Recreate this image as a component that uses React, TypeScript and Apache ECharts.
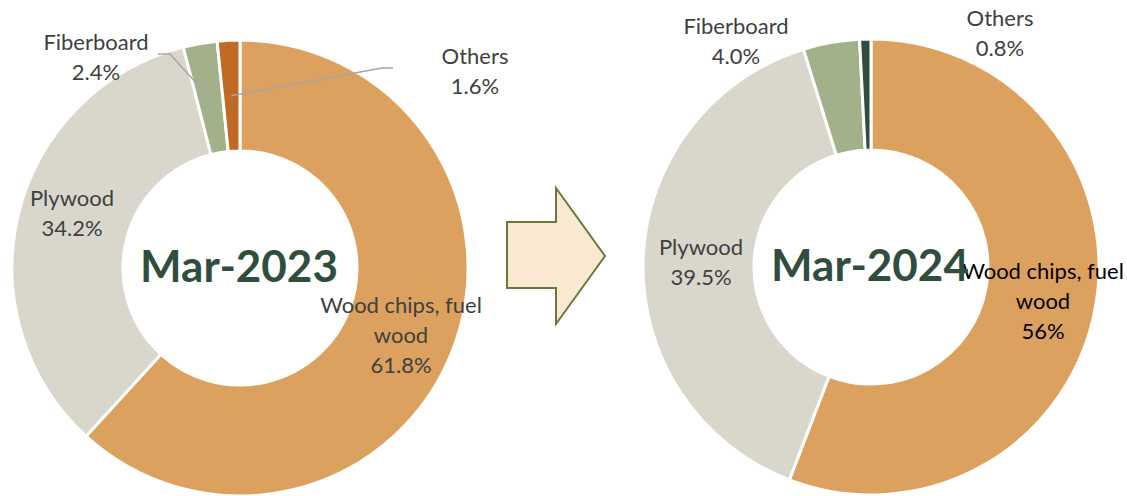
import React, { useEffect, useRef } from 'react';
import * as echarts from 'echarts';

const categories = ['Wood chips, fuel wood', 'Plywood', 'Fiberboard', 'Others'];
const values2023 = [61.8, 34.2, 2.4, 1.6];
const values2024 = [56, 39.5, 4.0, 0.8];
const decimals2023 = [1, 1, 1, 1];
const decimals2024 = [0, 1, 1, 1];
const periodLabels = ['Mar-2023', 'Mar-2024'];

const colors2023 = ['#DCA15E', '#D9D7CB', '#A3B18A', '#C06A25'];
const colors2024 = ['#DCA15E', '#D9D7CB', '#A3B18A', '#2F4E3E'];

const CENTER_L: [number, number] = [240, 268];
const CENTER_R: [number, number] = [871, 267];
const R_IN = 117;
const R_OUT = 228;

const labelPosL = [[401, 334], [72, 212], [96, 56], [475, 70]];
const labelPosR = [[1043, 300], [701, 261], [736, 40], [1000, 32]];
const labelColL = ['#404040', '#404040', '#404040', '#404040'];
const labelColR = ['#000000', '#404040', '#404040', '#404040'];

function wrapName(n: string) {
  return n.replace(', fuel wood', ', fuel\nwood');
}

function pieSeries(values: number[], decimals: number[], colors: string[], center: [number, number], labelPos: number[][], labelCols: string[]) {
  return {
    type: 'pie',
    center,
    radius: [R_IN, R_OUT],
    startAngle: 90,
    clockwise: true,
    avoidLabelOverlap: false,
    silent: true,
    itemStyle: { borderColor: '#ffffff', borderWidth: 3 },
    data: categories.map((name, i) => ({
      name,
      value: values[i],
      itemStyle: { color: colors[i] },
      label: { color: labelCols[i] },
    })),
    label: {
      show: true,
      position: 'inside',
      formatter: (p: any) => wrapName(p.name) + '\n' + values[p.dataIndex].toFixed(decimals[p.dataIndex]) + '%',
      fontFamily: 'Lato',
      fontSize: 22,
      lineHeight: 30,
      color: '#404040',
      align: 'center',
    },
    labelLine: { show: false },
    labelLayout: (params: any) => ({
      x: labelPos[params.dataIndex][0],
      y: labelPos[params.dataIndex][1],
      align: 'center',
      verticalAlign: 'middle',
    }),
    emphasis: { disabled: true },
  };
}

function sliceAnchor(values: number[], idx: number, center: [number, number]) {
  const total = values.reduce((a, b) => a + b, 0);
  let cum = 0;
  for (let i = 0; i < idx; i++) cum += values[i];
  const theta = ((cum + values[idx] / 2) / total) * Math.PI * 2;
  const r = (R_IN + R_OUT) / 2;
  return [center[0] + r * Math.sin(theta), center[1] - r * Math.cos(theta)];
}

export default function App() {
  const ref = useRef<HTMLDivElement>(null);
  useEffect(() => {
    if (!ref.current) return;
    const chart = echarts.init(ref.current, null, { renderer: 'svg' });
    const aFib = sliceAnchor(values2023, 2, CENTER_L);
    const aOth = sliceAnchor(values2023, 3, CENTER_L);
    const centerText = (text: string, x: number, y: number) => ({
      type: 'text',
      x,
      y,
      z: 10,
      style: {
        text,
        textAlign: 'center',
        textVerticalAlign: 'middle',
        fontFamily: 'Lato',
        fontWeight: 'bold',
        fontSize: 44,
        fill: '#2F4E3E',
      },
    });
    chart.setOption({
      animation: false,
      backgroundColor: '#ffffff',
      series: [
        pieSeries(values2023, decimals2023, colors2023, CENTER_L, labelPosL, labelColL),
        pieSeries(values2024, decimals2024, colors2024, CENTER_R, labelPosR, labelColR),
      ],
      graphic: [
        centerText(periodLabels[0], 239, 265),
        centerText(periodLabels[1], 870, 264),
        {
          type: 'polyline',
          z: 5,
          shape: { points: [aFib, [170, 54], [158, 54]] },
          style: { stroke: '#A6A6A6', lineWidth: 1.5, fill: 'none' },
        },
        {
          type: 'polyline',
          z: 5,
          shape: { points: [aOth, [382, 68], [393, 68]] },
          style: { stroke: '#A6A6A6', lineWidth: 1.5, fill: 'none' },
        },
        {
          type: 'polygon',
          z: 5,
          shape: {
            points: [[507, 222], [556, 222], [556, 188], [605, 256], [556, 324], [556, 288], [507, 288]],
          },
          style: { fill: '#FBE8D0', stroke: '#667A3A', lineWidth: 2 },
        },
      ],
    });
    return () => chart.dispose();
  }, []);
  return (
    <div
      ref={ref}
      style={{ position: 'fixed', left: 0, top: 0, width: 1127, height: 496 }}
    />
  );
}
